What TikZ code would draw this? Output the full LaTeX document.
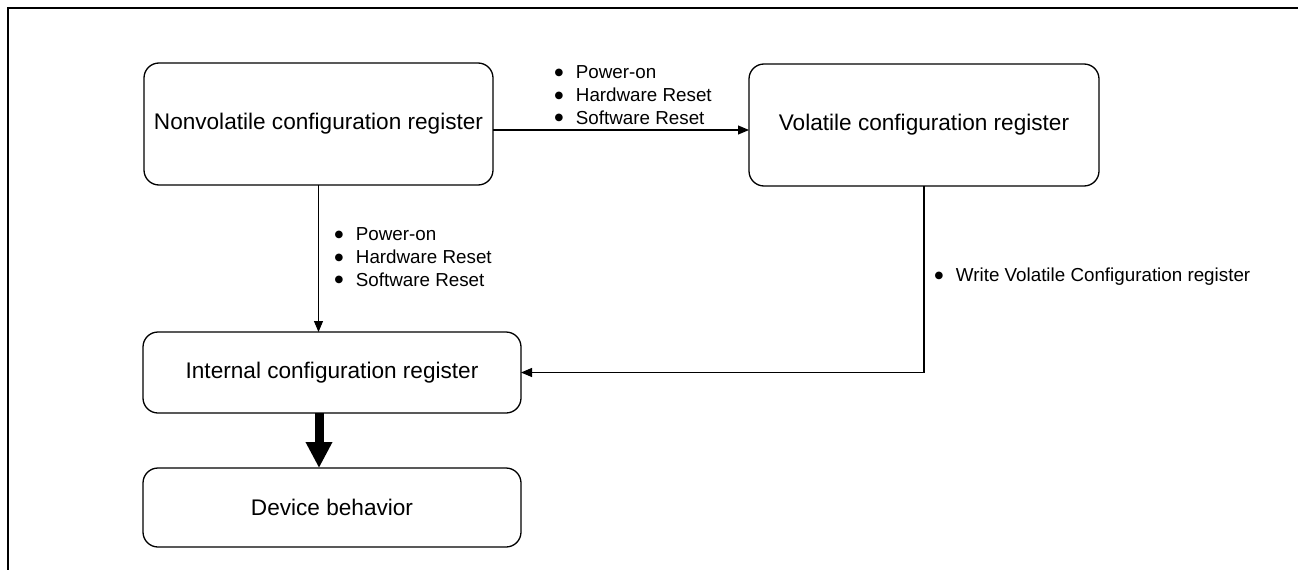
\documentclass[tikz,border=0pt]{standalone}
\usepackage{fontspec}
\setmainfont{Liberation Sans}
\newfontfamily\dotfont{DejaVu Sans}
\usetikzlibrary{arrows.meta}
\tikzset{
  regbox/.style={draw, line width=1.3pt, rounded corners=15pt, inner sep=0pt, outer sep=0pt,
    font=\fontsize{22.6}{27}\selectfont, align=center},
  thinarrow/.style={line width=1.1pt, -{Triangle[length=11pt,width=9pt]}},
  thickarrow/.style={line width=9pt, -{Triangle[length=26pt,width=25pt]}},
  bullets/.style={inner sep=0pt, outer sep=0pt, anchor=west, font=\fontsize{18.8}{22.7}\selectfont},
  frameline/.style={line width=1.3pt}
}
\newcommand{\bdot}{\raisebox{3.3pt}{\dotfont\fontsize{10}{12}\selectfont ●}}
\newcommand{\blist}[1]{\begin{tabular}{@{}l@{\hspace{12.5pt}}l@{}}#1\end{tabular}}
\begin{document}
\begin{tikzpicture}[x=1pt,y=-1pt]
\useasboundingbox (0,0) rectangle (1298,570);
% frame
\coordinate (fa) at (8,570);
\coordinate (fb) at (8,8);
\coordinate (fc) at (1298,8);
\draw[frameline] (fa) -- (fb) -- (fc);
% boxes
\node[regbox, minimum width=349pt, minimum height=122pt] (nv) at (318.5,124) {\raisebox{-5pt}{Nonvolatile configuration register}};
\node[regbox, minimum width=350pt, minimum height=122pt] (vol) at (924,125) {Volatile configuration register};
\node[regbox, minimum width=378pt, minimum height=81pt] (int) at (332,372.5) {Internal configuration register};
\node[regbox, minimum width=378pt, minimum height=79pt] (dev) at (332,507.5) {Device behavior};
% connectors
\draw[thinarrow] ([yshift=-6pt]nv.east) -- ([yshift=-5pt]vol.west);
\draw[thinarrow] (nv.south) -- (nv.south |- int.north);
\draw[thinarrow] (vol.south) |- (int.east);
\draw[thickarrow] ([xshift=-13pt]int.south) -- ([xshift=-13pt]dev.north);
% labels
\node[bullets] (l1) at (554.7,97) {\blist{\bdot & Power-on\\ \bdot & Hardware Reset\\ \bdot & Software Reset}};
\node[bullets] (l2) at (334.7,259) {\blist{\bdot & Power-on\\ \bdot & Hardware Reset\\ \bdot & Software Reset}};
\node[bullets] (l3) at (934.7,277) {\blist{\bdot & Write Volatile Configuration register}};
\end{tikzpicture}
\end{document}
